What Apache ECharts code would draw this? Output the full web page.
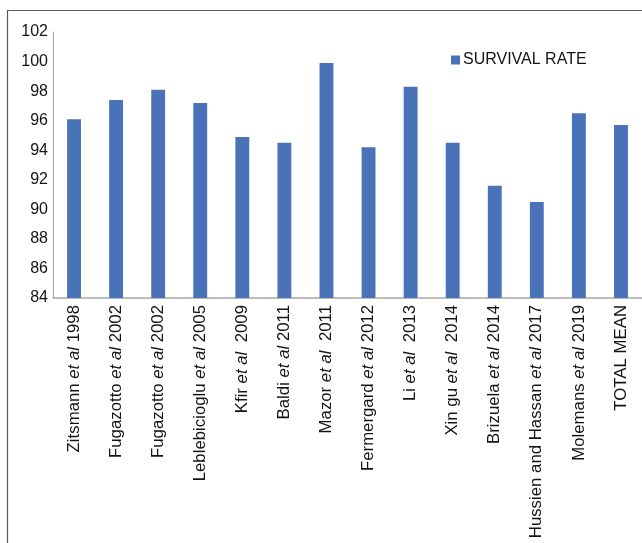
<!DOCTYPE html>
<html>
<head>
<meta charset="utf-8">
<style>
  html, body { margin: 0; padding: 0; background: #fff; }
  #chart { width: 642px; height: 543px; }
</style>
<script src="https://cdn.jsdelivr.net/npm/echarts@6/dist/echarts.min.js"></script>
</head>
<body>
<div id="chart"></div>
<script>
// Study labels (x axis) – "et al" is rendered in italics
const studies = [
  'Zitsmann et al 1998',
  'Fugazotto et al 2002',
  'Fugazotto et al 2002',
  'Leblebicioglu et al 2005',
  'Kfir et al  2009',
  'Baldi et al 2011',
  'Mazor et al  2011',
  'Fermergard et al 2012',
  'Li et al  2013',
  'Xin gu et al  2014',
  'Brizuela et al 2014',
  'Hussien and Hassan et al 2017',
  'Molemans et al 2019',
  'TOTAL MEAN'
];

// Survival rate (%) per study
const survivalRate = [96.1, 97.4, 98.1, 97.2, 94.9, 94.5, 99.9, 94.2, 98.3, 94.5, 91.6, 90.5, 96.5, 95.7];

const seriesName = 'SURVIVAL RATE';
const yMin = 84, yMax = 102, yStep = 2;

const FONT = '"Liberation Sans", Arial, sans-serif';
const TEXT = '#141414';

const chart = echarts.init(document.getElementById('chart'), null, { renderer: 'canvas' });

chart.setOption({
  animation: false,
  backgroundColor: '#fff',
  textStyle: { fontFamily: FONT },
  graphic: [{
    // chart-area frame: left and top edges
    type: 'polyline',
    shape: { points: [[7.5, 543], [7.5, 10.5], [642, 10.5]] },
    style: { fill: null, stroke: '#595959', lineWidth: 1.2 },
    silent: true,
    z: -1
  }],
  legend: {
    data: [seriesName],
    left: 446, top: 47,
    icon: 'rect',
    itemWidth: 9, itemHeight: 9,
    textStyle: { fontSize: 16, color: TEXT, fontFamily: FONT, padding: [0, 0, 0, -2] }
  },
  grid: { left: 53, top: 32, width: 591, bottom: 245, containLabel: false },
  xAxis: {
    type: 'category',
    data: studies,
    axisTick: { show: false },
    axisLine: { lineStyle: { color: '#a6a6a6', width: 1.5 } },
    axisLabel: {
      rotate: 90,
      interval: 0,
      margin: 7,
      fontSize: 16.8,
      color: TEXT,
      fontFamily: FONT,
      formatter: v => v.replace('et al', '{i|et al}'),
      rich: {
        i: { fontStyle: 'italic', fontSize: 16.8, color: TEXT, fontFamily: FONT }
      }
    }
  },
  yAxis: {
    type: 'value',
    min: yMin, max: yMax, interval: yStep,
    splitLine: { show: false },
    axisTick: { show: false },
    axisLine: { show: true, lineStyle: { color: '#a6a6a6', width: 1 } },
    axisLabel: { fontSize: 16, color: TEXT, margin: 5, fontFamily: FONT }
  },
  series: [{
    name: seriesName,
    type: 'bar',
    data: survivalRate,
    barWidth: '33%',
    itemStyle: { color: '#4a72b8' }
  }]
});
</script>
</body>
</html>
